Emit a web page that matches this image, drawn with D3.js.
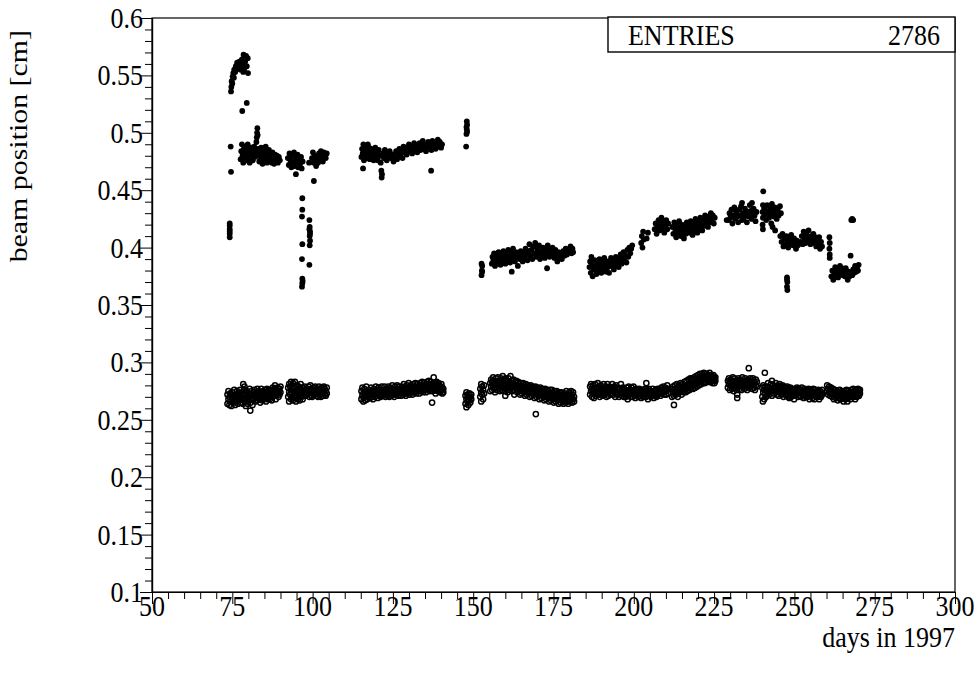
<!DOCTYPE html>
<html>
<head>
<meta charset="utf-8">
<script src="https://cdn.jsdelivr.net/npm/d3@7"></script>
<style>
  html, body { margin: 0; padding: 0; background: #fff; }
  svg { display: block; }
  text { font-family: "Liberation Serif", "Times New Roman", serif; fill: #000; }
</style>
</head>
<body>
<svg id="chart" width="980" height="677"></svg>
<script>
// ---------------- axis / label values ----------------
const xTicks = [50, 75, 100, 125, 150, 175, 200, 225, 250, 275, 300];
const yTicks = [0.1, 0.15, 0.2, 0.25, 0.3, 0.35, 0.4, 0.45, 0.5, 0.55, 0.6];
const xTitle = "days in 1997";
const yTitle = "beam position [cm]";
const statLabel = "ENTRIES";
const statValue = 2786;

// ---------------- upper band (filled markers) ----------------
// each row: [day, reading, reading, ...]
const upperRunA = [
  [74.2,.412,.416,.419,.414,.421,.409],[74.5,.488],[74.6,.466,.536],[74.7,.540],[74.8,.545],[75.0,.543],
  [75.1,.549],[75.3,.552],[75.5,.548],[75.6,.555],[75.9,.553],[76.1,.558],[76.3,.556],[76.5,.561],
  [76.8,.559],[77.0,.556],[77.2,.562],[77.4,.558],[77.6,.555,.477],[77.8,.560,.484],[78.0,.564,.490],
  [78.1,.519],[78.2,.558,.480],[78.4,.553,.474],[78.5,.568],[78.6,.560,.486],[78.8,.556,.482],
  [79.0,.562,.478],[79.2,.488],[79.3,.567],[79.4,.476],[79.5,.558,.526],[79.6,.483],[79.8,.565,.490],
  [79.9,.552],[80.0,.480],[80.2,.486],[80.4,.474],[80.6,.482],[80.8,.478],[81.0,.487],[81.2,.483],
  [81.4,.476],[81.6,.481],[81.8,.488],[82.0,.479],[82.2,.484],[82.5,.492],[82.6,.496],[82.7,.500],
  [82.8,.504],[82.9,.498],[83.0,.486],[83.2,.480],[83.4,.475],[83.6,.484],[83.8,.478],[84.0,.487],
  [84.2,.482],[84.4,.473],[84.6,.480],[84.8,.485],[85.0,.477],[85.2,.482],[85.4,.488],[85.6,.479],
  [85.8,.474],[86.0,.483],[86.2,.478],[86.4,.485],[86.6,.476],[86.8,.481],[87.0,.479],[87.3,.474],
  [87.5,.483],[87.8,.478],[88.0,.473],[88.3,.481],[88.6,.476],[88.9,.480],[89.2,.474],[89.5,.479],
  [89.8,.476],
  [92.3,.478],[92.6,.472],[92.8,.482],[93.1,.476],[93.4,.470],[93.6,.480],[93.9,.474],[94.2,.483],
  [94.4,.471],[94.7,.478],[94.8,.464],[95.0,.474],[95.3,.481],[95.5,.470],[95.8,.477],[96.1,.473],
  [96.4,.479],[96.6,.469],[96.9,.475],
  [96.8,.443,.433,.403,.373,.369],[96.7,.427,.390,.366],[96.9,.371],
  [99.0,.424,.385,.416],[99.1,.418,.410,.402],[99.2,.414,.406,.412],[98.9,.474],
  [99.8,.478],[100.1,.483],[100.3,.474],[100.4,.458],[100.6,.480],[100.9,.476],[101.1,.471],[101.4,.479],
  [101.7,.474],[102.0,.482],[102.3,.477],[102.6,.484],[102.9,.479],[103.2,.475],[103.5,.483],
  [103.8,.480],[104.1,.478],[104.4,.482]
];
const upperRunB = [
  [115.2,.479],[115.4,.486],[115.6,.482],[115.7,.469],[115.8,.490],[116.0,.476],[116.2,.484],[116.4,.488],
  [116.6,.480],[116.8,.485],[117.0,.478],[117.2,.490],[117.4,.483],[117.6,.487],[117.8,.477],
  [118.0,.482],[118.3,.486],[118.5,.479],[118.8,.484],[119.0,.476],[119.3,.481],[119.5,.487],
  [119.8,.479],[120.0,.483],[120.3,.476],[120.6,.485],[120.9,.480],[121.2,.474],[121.4,.467],
  [121.5,.461],[121.6,.464],[121.9,.482],[122.2,.478],[122.5,.485],[122.8,.480],[123.1,.476],
  [123.4,.483],[123.7,.479],[124.0,.484],[124.4,.478],[124.8,.481],[125.2,.475],[125.6,.479],
  [126.0,.484],[126.3,.477],[126.6,.482],[127.0,.486],[127.3,.480],[127.6,.484],[128.0,.478],
  [128.3,.488],[128.6,.483],[129.0,.487],[129.3,.481],[129.6,.485],[130.0,.490],[130.3,.484],
  [130.6,.488],[131.0,.482],[131.3,.487],[131.6,.491],[132.0,.485],[132.3,.489],[132.6,.483],
  [133.0,.487],[133.3,.491],[133.6,.485],[134.0,.489],[134.3,.493],[134.6,.486],[135.0,.490],
  [135.3,.484],[135.6,.488],[136.0,.492],[136.3,.487],[136.6,.490],[136.9,.467],[137.0,.485],
  [137.3,.493],[137.6,.488],[138.0,.491],[138.3,.486],[138.6,.490],[139.0,.494],[139.3,.488],
  [139.6,.492],[140.0,.487],[140.3,.490],
  [147.8,.488],[147.9,.499,.505],[148.0,.503,.510],[148.1,.507,.501]
];
const upperRunC = [
  [152.6,.376,.386],[152.7,.380],[152.8,.384,.379],
  [155.8,.386],[156.0,.392],[156.3,.389],[156.5,.395],[156.8,.384],[157.0,.390],[157.3,.393],
  [157.6,.387],[157.9,.396],[158.2,.390],[158.5,.385],[158.8,.393],[159.1,.389],[159.4,.397],
  [159.7,.391],[160.0,.386],[160.3,.394],[160.6,.390],[160.9,.398],[161.2,.392],[161.5,.387],
  [161.8,.395],[162.0,.379],[162.1,.391],[162.4,.399],[162.7,.393],[163.0,.388],[163.3,.396],
  [163.6,.392],[163.9,.384],[164.2,.394],[164.5,.390],[164.8,.397],[165.1,.393],[165.4,.388],
  [165.7,.396],[166.0,.391],[166.3,.399],[166.6,.394],[166.9,.389],[167.2,.397],[167.5,.403],
  [167.8,.393],[168.1,.398],[168.4,.390],[168.7,.401],[169.0,.395],[169.3,.404],[169.6,.392],
  [169.9,.399],[170.2,.395],[170.5,.402],[170.8,.390],[171.1,.397],[171.4,.393],[171.7,.400],
  [172.0,.396],[172.3,.391],[172.6,.399],[172.9,.395],[173.0,.382],[173.2,.402],[173.5,.397],
  [173.8,.392],[174.1,.398],[174.4,.394],[174.7,.400],[175.0,.396],[175.3,.391],[175.6,.398],
  [175.9,.394],[176.2,.388],[176.5,.396],[176.8,.392],[177.2,.395],[177.6,.390],[178.0,.397],
  [178.4,.393],[178.8,.399],[179.2,.394],[179.6,.397],[180.0,.398],[180.3,.401],[180.6,.395],
  [180.9,.399],[181.1,.396]
];
const upperRunD = [
  [186.2,.383],[186.4,.388],[186.6,.378],[186.8,.392],[187.0,.385],[187.2,.375],[187.5,.381],
  [187.8,.389],[188.1,.384],[188.4,.377],[188.7,.386],[189.0,.380],[189.3,.390],[189.6,.383],
  [189.9,.378],[190.2,.387],[190.5,.382],[190.8,.391],[191.1,.385],[191.4,.379],[191.7,.388],
  [192.0,.383],[192.3,.378],[192.6,.386],[192.9,.391],[193.2,.384],[193.5,.389],[193.8,.381],
  [194.1,.387],[194.4,.392],[194.7,.385],[195.0,.390],[195.3,.383],[195.6,.388],[195.9,.394],
  [196.2,.386],[196.5,.391],[196.8,.396],[197.1,.389],[197.4,.393],[197.7,.387],[198.0,.398],
  [198.3,.392],[198.6,.400],[198.9,.395],[199.2,.399],[199.5,.402],
  [202.3,.404],[202.5,.410],[202.7,.400],[202.9,.414],[203.1,.407],[204.0,.408],[204.4,.413],
  [206.5,.416],[206.8,.421],[207.1,.412],[207.4,.418],[207.7,.424],[208.0,.415],[208.3,.420],
  [208.6,.426],[208.9,.417],[209.2,.422],[209.5,.413],[209.8,.419],[210.1,.424],[210.4,.416],
  [210.7,.421],
  [212.0,.418],[212.3,.412],[212.6,.422],[212.9,.416],[213.2,.409],[213.5,.419],[213.8,.413],
  [214.1,.423],[214.4,.417],[214.7,.410],[215.0,.420],[215.3,.414],[215.6,.408],[215.9,.418],
  [216.2,.412],[216.5,.422],[216.8,.415],[217.1,.419],[217.4,.413],[217.7,.423],[218.0,.417],
  [218.3,.411],[218.6,.421],[218.9,.415],[219.2,.425],[219.5,.418],[219.8,.413],[220.1,.422],
  [220.4,.417],[220.7,.426],[221.0,.420],[221.3,.415],[221.6,.424],[221.9,.419],[222.2,.428],
  [222.5,.421],[222.8,.425],[223.1,.418],[223.4,.427],[223.7,.422],[224.0,.430],[224.3,.424],
  [224.6,.428],[224.9,.421],[225.2,.426],[228.9,.424]
];
const upperRunE = [
  [229.5,.424],[229.8,.430],[230.1,.426],[230.4,.433],[230.7,.421],[231.0,.428],[231.3,.435],
  [231.6,.425],[231.9,.431],[232.2,.427],[232.5,.422],[232.8,.433],[233.1,.428],[233.4,.436],
  [233.7,.424,.439],[234.0,.430],[234.3,.426],[234.6,.434],[234.9,.429],[235.2,.422],[235.5,.431],
  [235.8,.427],[236.1,.437],[236.4,.432],[236.7,.425],[236.8,.439],[237.0,.430],[237.3,.434],
  [237.6,.428],[237.9,.423],[238.2,.431],
  [240.1,.431,.420],[240.2,.437,.426,.416],[240.3,.449],[240.6,.434],[240.9,.429],[241.2,.424],
  [241.5,.437],[241.8,.431],[242.1,.426],[242.4,.434],[242.7,.429],[242.8,.421],[243.0,.438],
  [243.2,.418],[243.3,.432],[243.6,.427],[243.9,.435],[244.0,.415],[244.2,.430],[244.5,.425],
  [244.8,.433],[245.1,.428],[245.5,.436],[245.8,.430],
  [245.6,.410],[246.0,.405],[246.3,.412],[246.6,.401],[246.9,.408],[247.2,.403],[247.5,.410],
  [247.8,.406],[248.1,.400],[248.4,.408],[248.7,.404],[249.0,.411],[249.3,.406],[249.6,.402],
  [249.9,.408],[250.2,.404],[250.5,.399],[250.8,.406],[251.1,.402],[252.0,.405],[252.3,.410],
  [252.6,.403],[252.9,.414],[253.2,.408],[253.5,.404],[253.8,.411],[254.1,.406],[254.4,.415],
  [254.7,.409],[255.0,.403],[255.3,.410],[255.6,.406],[255.9,.412],[256.2,.404],[256.5,.409],
  [256.8,.401],[257.1,.407],[257.4,.403],[257.7,.409],[258.0,.399],[258.3,.405],[258.6,.401],
  [247.7,.374,.366,.372],[247.8,.370,.363],
  [260.9,.409,.399],[261.0,.404,.394,.391],
  [261.5,.375],[261.8,.380],[262.1,.372],[262.4,.378],[262.7,.383],[263.0,.376],[263.3,.381],
  [263.6,.374],[263.9,.379],[264.2,.384],[264.5,.377],[264.8,.382],[265.1,.376],[265.4,.380],
  [265.7,.375],[266.0,.382],[266.3,.377],[266.6,.372],[266.9,.379],[267.2,.375],[267.5,.393],
  [267.7,.424],[268.0,.376,.425],[268.3,.381,.424],[268.6,.378],[268.9,.384],[269.2,.379],
  [269.5,.383],[269.8,.380],[270.0,.385]
];

// ---------------- lower band (open markers) ----------------
const lowerRunA = [
  [73.5,.264,.272],[73.8,.268,.275],[74.1,.263,.270],[74.4,.266,.273],[74.7,.271,.262],[75.0,.268,.274],
  [75.3,.265,.271],[75.6,.269,.276],[75.9,.263,.267],[76.2,.272,.266],[76.5,.270,.275],[76.8,.264,.268],
  [77.1,.273,.267],[77.4,.270,.276],[77.7,.265,.271],[78.0,.268,.274],[78.3,.272,.264],[78.4,.281],
  [78.6,.269,.276],[78.8,.279],[78.9,.266,.273],[79.2,.271,.262],[79.5,.268,.275],[79.8,.264,.270],
  [80.1,.273,.267],[80.4,.270,.277],[80.6,.258],[80.7,.265,.272],[81.0,.268,.275],[81.3,.263,.271],
  [81.6,.274,.268],[81.9,.270,.276],[82.2,.266,.272],[82.5,.273,.269],[82.8,.277,.267],[83.1,.271,.275],
  [83.4,.268,.273],[83.7,.274,.265],[84.0,.270,.277],[84.3,.267,.273],[84.6,.275,.270],[84.9,.272,.268],
  [85.2,.276,.270],[85.5,.273,.266],[85.8,.270,.277],[86.1,.274,.268],[86.4,.271,.276],[86.7,.268,.274],
  [87.0,.276,.271],[87.3,.273,.267],[87.6,.270,.278],[87.9,.275,.272],[88.2,.271,.277],[88.3,.280],
  [88.5,.268,.274],[88.8,.276,.272],[89.1,.273,.278],[89.4,.270,.275],[89.7,.277,.272],[90.0,.274,.279],
  [92.4,.270,.278],[92.7,.266,.274,.281],[93.0,.272,.279],[93.3,.268,.276,.283],[93.6,.273,.270],
  [93.9,.277,.267,.282],[94.2,.271,.275],[94.5,.269,.278,.283],[94.8,.274,.266],[95.1,.276,.271,.280],
  [95.4,.268,.273],[95.7,.275,.279,.270],[96.0,.272,.267],[96.3,.277,.274,.281],[96.6,.270,.275],
  [96.9,.273,.278,.268],[97.2,.276,.271],[97.5,.274,.279],[97.8,.271,.276],[98.1,.275,.272],
  [98.7,.273,.279],[99.0,.270,.276],[99.3,.274,.280],[99.6,.271,.277],[99.9,.275,.270],[100.2,.278,.273],
  [100.5,.272,.276],[100.8,.279,.274],[101.1,.271,.275],[101.4,.277,.273],[101.7,.270,.276],
  [102.0,.274,.279],[102.3,.272,.277],[102.6,.275,.270],[102.9,.278,.273],[103.2,.271,.276],
  [103.5,.274,.279],[103.8,.272,.277],[104.1,.275,.271],[104.4,.273,.278]
];
const lowerRunB = [
  [115.2,.268,.275],[115.5,.271,.278],[115.8,.266,.273],[116.1,.270,.277],[116.4,.274,.267],
  [116.7,.272,.279],[117.0,.268,.275],[117.3,.273,.270],[117.6,.276,.271],[117.9,.269,.274],
  [118.2,.272,.278],[118.5,.270,.275],[118.8,.274,.268],[119.1,.277,.272],[119.4,.270,.275],
  [119.7,.273,.279],[120.0,.271,.276],[120.3,.275,.269],[120.6,.272,.278],[120.9,.276,.271],
  [121.2,.270,.274],[121.5,.273,.279],[121.8,.276,.271],[122.1,.272,.275],[122.4,.274,.279],
  [122.7,.270,.276],[123.0,.273,.277],[123.3,.276,.271],[123.6,.272,.279],[123.9,.275,.270],
  [124.2,.278,.273],[124.5,.271,.276],[124.8,.274,.280],[125.1,.272,.277],[125.4,.276,.270],
  [125.7,.273,.279],[126.0,.277,.272],[126.3,.274,.280],[126.6,.271,.276],[126.9,.275,.279],
  [127.2,.273,.277],[127.5,.276,.271],[127.8,.279,.274],[128.1,.272,.277],[128.4,.275,.281],
  [128.7,.273,.278],[129.0,.277,.271],[129.3,.274,.280],[129.6,.278,.273],[129.9,.275,.282],
  [130.2,.272,.277],[130.5,.276,.280],[130.8,.274,.278],[131.1,.277,.272],[131.4,.275,.281],
  [131.7,.279,.274],[132.0,.276,.282],[132.3,.273,.278],[132.6,.277,.281],[132.9,.275,.279],
  [133.2,.278,.273],[133.5,.276,.282],[133.8,.280,.275],[134.1,.277,.283],[134.4,.274,.279],
  [134.7,.278,.282],[135.0,.276,.280],[135.3,.279,.274],[135.6,.277,.283],[135.9,.281,.276],
  [136.2,.278,.284],[136.5,.275,.280],[136.8,.279,.283],[137.1,.277,.281],[137.2,.265],
  [137.4,.280,.275],[137.7,.278,.287],[138.0,.276,.282],[138.3,.280,.273],[138.6,.277,.283],
  [138.9,.281,.275],[139.2,.278,.282],[139.5,.275,.280],[139.8,.279,.274],[140.1,.276,.281],
  [140.4,.273,.278],[140.7,.277,.274],
  [147.6,.264,.271],[147.9,.268,.274,.261],[148.2,.266,.272],[148.5,.270,.263],[148.8,.267,.273],
  [149.1,.265,.270],[149.4,.268,.272]
];
const lowerRunC = [
  [152.2,.270,.277],[152.5,.266,.274,.281],[152.8,.272,.279],[153.1,.268,.276],[153.4,.273,.280],
  [155.3,.275,.282],[155.6,.279,.285],[155.9,.276,.283],[156.2,.280,.287],[156.5,.277,.284],
  [156.8,.281,.274],[157.1,.278,.286],[157.4,.283,.276],[157.7,.280,.287],[158.0,.277,.284],
  [158.3,.282,.275],[158.6,.279,.286],[158.9,.276,.283],[159.2,.281,.288],[159.5,.278,.285],
  [159.8,.275,.282],[160.0,.271],[160.1,.280,.286],[160.4,.277,.284],[160.7,.282,.274],[161.0,.279,.286],
  [161.3,.276,.283],[161.6,.281,.288],[161.9,.278,.284],[162.2,.275,.281],[162.5,.279,.285],
  [162.8,.276,.272],[163.1,.280,.283],[163.4,.277,.284],[163.7,.274,.280],[164.0,.278,.283],
  [164.3,.275,.281],[164.6,.279,.272],[164.9,.276,.282],[165.2,.273,.279],[165.5,.277,.282],
  [165.8,.274,.280],[166.1,.278,.271],[166.4,.275,.281],[166.7,.272,.278],[167.0,.276,.280],
  [167.3,.273,.279],[167.6,.277,.270],[167.9,.274,.280],[168.2,.271,.277],[168.5,.275,.279],
  [168.8,.272,.278],[169.1,.276,.269],[169.4,.273,.279],[169.5,.255],[169.7,.270,.276],[170.0,.274,.278],
  [170.3,.271,.277],[170.6,.275,.268],[170.9,.272,.278],[171.2,.269,.275],[171.5,.273,.277],
  [171.8,.270,.276],[172.1,.274,.267],[172.4,.271,.277],[172.7,.268,.274],[173.0,.272,.276],
  [173.3,.269,.275],[173.6,.273,.266],[173.9,.270,.276],[174.2,.267,.273],[174.5,.271,.276],
  [174.8,.268,.274],[175.1,.272,.265],[175.4,.269,.275],[175.7,.266,.272],[176.0,.270,.275],
  [176.3,.267,.273],[176.6,.271,.264],[176.9,.268,.274],[177.2,.265,.272],[177.5,.269,.274],
  [177.8,.266,.272],[178.1,.270,.264],[178.4,.267,.273],[178.7,.265,.271],[179.0,.269,.275],
  [179.3,.266,.272],[179.6,.270,.264],[179.9,.268,.274],[180.2,.266,.271],[180.5,.269,.275],
  [180.8,.265,.272],[181.1,.268,.274],[181.4,.270,.266]
];
const lowerRunD = [
  [186.4,.272,.279],[186.7,.275,.281],[187.0,.270,.277],[187.3,.273,.280],[187.6,.276,.269],
  [187.9,.274,.281],[188.2,.271,.278],[188.5,.277,.273],[188.8,.275,.282],[189.1,.272,.278],
  [189.4,.276,.270],[189.7,.273,.280],[190.0,.278,.275],[190.3,.271,.277],[190.6,.274,.281],
  [190.9,.276,.272],[191.2,.273,.279],[191.5,.277,.270],[191.8,.274,.281],[192.1,.271,.276],
  [192.4,.275,.279],[192.7,.278,.272],[193.0,.273,.277],[193.3,.276,.281],[193.6,.272,.275],
  [193.9,.275,.279],[194.2,.270,.277],[194.5,.274,.280],[194.8,.277,.272],[195.1,.273,.278],
  [195.4,.276,.270],[195.7,.272,.277],[196.0,.275,.281],[196.3,.271,.274],[196.6,.274,.278],
  [196.9,.277,.270],[197.2,.273,.276],[197.5,.270,.275],[197.8,.274,.278],[198.1,.271,.268],
  [198.4,.275,.279],[198.7,.272,.276],[199.0,.276,.270],[199.3,.273,.278],[199.6,.270,.275],
  [199.9,.274,.279],[200.2,.271,.276],[200.5,.275,.269],[200.8,.272,.277],[201.1,.276,.273],
  [201.4,.270,.274],[201.7,.273,.277],[202.0,.271,.275],[202.3,.274,.269],[202.6,.272,.276],
  [202.9,.275,.270],[203.2,.271,.274],[203.5,.274,.277],[203.8,.270,.273],[203.9,.282],
  [204.1,.273,.276],[204.4,.271,.268],[204.7,.274,.277],[205.0,.272,.275],[205.3,.275,.270],
  [205.6,.271,.274],[205.9,.274,.277],[206.2,.272,.269],[206.5,.275,.273],[206.8,.271,.276],
  [207.1,.274,.270],[207.4,.272,.277],[207.7,.275,.273],[208.0,.273,.276],[208.3,.276,.271],
  [208.6,.273,.278],[208.9,.276,.274],[209.2,.274,.279],[209.5,.277,.272],[209.8,.275,.278],
  [210.1,.272,.276],[210.4,.276,.280],[210.7,.273,.277],
  [211.9,.270,.277],[212.2,.273,.279],[212.5,.271,.276,.263],[212.8,.274,.280],[213.1,.272,.277],
  [213.4,.275,.281],[213.7,.273,.270],[214.0,.276,.280],[214.3,.274,.278],[214.6,.277,.282],
  [214.9,.275,.272],[215.2,.278,.281],[215.5,.276,.274],[215.8,.279,.283],[216.1,.277,.274],
  [216.4,.280,.284],[216.7,.278,.275],[217.0,.281,.285],[217.3,.279,.276],[217.6,.282,.286],
  [217.9,.280,.277],[218.2,.282,.286],[218.5,.280,.277],[218.8,.283,.287],[219.1,.281,.278],
  [219.4,.284,.288],[219.7,.282,.279],[220.0,.285,.289],[220.3,.283,.280],[220.6,.286,.290],
  [220.9,.284,.281],[221.2,.287,.290],[221.5,.285,.282],[221.8,.288,.291],[222.1,.286,.282],
  [222.4,.288,.283],[222.7,.285,.290],[223.0,.287,.283],[223.3,.289,.284],[223.6,.286,.291],
  [223.9,.288,.283],[224.2,.285,.289],[224.5,.287,.282],[224.8,.284,.289],[225.1,.286,.282],
  [225.4,.284,.287]
];
const lowerRunE = [
  [229.3,.278,.284],[229.6,.281,.286],[229.9,.276,.283],[230.2,.280,.285],[230.5,.277,.282],
  [230.8,.283,.287],[231.1,.279,.275],[231.4,.282,.286],[231.7,.278,.284],[232.0,.281,.276],
  [232.2,.269,.272],[232.3,.284,.279],[232.6,.280,.286],[232.9,.277,.283],[233.2,.282,.285],
  [233.5,.279,.276],[233.8,.283,.287],[234.1,.280,.282],[234.4,.277,.284],[234.7,.281,.286],
  [235.0,.279,.283],[235.3,.284,.276],[235.6,.280,.285],[235.8,.295],[235.9,.282,.278],
  [236.2,.279,.286],[236.5,.283,.281],[236.8,.277,.284],[237.1,.281,.286],[237.4,.278,.283],
  [237.7,.282,.276],[238.0,.280,.285],[238.3,.283,.279],
  [240.0,.270,.278],[240.2,.266],[240.3,.274,.280],[240.6,.268,.276],[240.8,.291],[240.9,.273,.279],
  [241.2,.276,.270],[241.5,.271,.279],[241.8,.275,.282],[242.1,.272,.277],[242.4,.278,.274],
  [242.7,.275,.281],[243.0,.271,.277,.284],[243.3,.276,.280],[243.6,.273,.278],[243.9,.279,.275],
  [244.2,.276,.282],[244.5,.272,.278],[244.8,.277,.280],[245.1,.274,.271],[245.4,.278,.281],
  [245.7,.275,.279],[246.0,.272,.277],[246.3,.276,.280],[246.6,.273,.270],[246.9,.277,.279],
  [247.2,.274,.278],[247.5,.271,.276],[247.8,.275,.279],[248.0,.270],[248.1,.272,.277],
  [248.4,.276,.269],[248.7,.273,.278],[249.0,.270,.275],[249.3,.274,.277],[249.6,.271,.276],
  [249.9,.275,.268],[250.2,.272,.277],[250.5,.276,.274],[250.8,.273,.278],[251.1,.270,.275],
  [251.4,.274,.277],[251.7,.271,.276],
  [252.0,.270,.276],[252.3,.273,.278],[252.6,.271,.275],[252.9,.274,.269],[253.2,.272,.277],
  [253.5,.275,.270],[253.8,.273,.276],[254.1,.270,.274],[254.4,.274,.277],[254.7,.271,.268],
  [255.0,.275,.273],[255.3,.272,.276],[255.6,.269,.274],[255.9,.273,.277],[256.2,.271,.268],
  [256.5,.274,.276],[256.8,.272,.270],[257.1,.275,.273],[257.4,.270,.276],[257.7,.273,.268],
  [258.0,.271,.275],[258.3,.274,.270],[258.6,.272,.276],
  [260.2,.275,.280],[260.5,.277,.272],[260.8,.274,.279],[261.1,.276,.271],[261.4,.273,.278],
  [261.7,.275,.270],[262.0,.272,.277],[262.3,.274,.268],[262.6,.271,.276],[262.9,.273,.269],
  [263.2,.270,.275],[263.5,.272,.267],[263.8,.269,.274],[264.1,.271,.276],[264.4,.268,.273],
  [264.7,.271,.275],[265.0,.269,.274],[265.3,.272,.266],[265.6,.270,.275],[265.9,.268,.273],
  [266.2,.271,.276],[266.5,.269,.266],[266.8,.272,.275],[267.1,.270,.273],[267.4,.273,.268],
  [267.7,.271,.276],[268.0,.274,.270],[268.3,.272,.277],[268.6,.270,.275],[268.9,.273,.268],
  [269.2,.271,.276],[269.5,.274,.270],[269.8,.272,.277],[270.1,.275,.271],[270.4,.273,.276]
];

// ---------------- layout ----------------
const W = 980, H = 677;
const frame = { left: 152, top: 18, right: 955, bottom: 592 };
const fontSize = 26;      // horizontal glyph size
const stretch = 1.15;     // glyphs are drawn a bit taller than wide

const svg = d3.select("#chart");

const x = d3.scaleLinear().domain([50, 300]).range([frame.left, frame.right]);
const y = d3.scaleLinear().domain([0.1, 0.6]).range([frame.bottom, frame.top]);

// expand rows [day, r1, r2, ...] into individual readings
const expand = rows => rows.flatMap(([d, ...vals]) => vals.map(v => ({ d, v })));
const upper = expand([].concat(upperRunA, upperRunB, upperRunC, upperRunD, upperRunE));
const lower = expand([].concat(lowerRunA, lowerRunB, lowerRunC, lowerRunD, lowerRunE));

// ---------------- markers ----------------
const plot = svg.append("g").attr("class", "markers");

plot.append("g").selectAll("circle")
  .data(lower)
  .join("circle")
  .attr("cx", p => x(p.d))
  .attr("cy", p => y(p.v))
  .attr("r", 2.6)
  .attr("fill", "none")
  .attr("stroke", "#000")
  .attr("stroke-width", 1.5);

plot.append("g").selectAll("circle")
  .data(upper)
  .join("circle")
  .attr("cx", p => x(p.d))
  .attr("cy", p => y(p.v))
  .attr("r", 2.9)
  .attr("fill", "#000");

// ---------------- axes ----------------
const xMinor = d3.range(50, 300.001, 5).filter(v => v % 25 !== 0);
const yMinor = d3.range(10, 60.001, 1).filter(v => v % 5 !== 0).map(v => v / 100);

function styleAxis(g) {
  g.selectAll("path.domain").attr("stroke", "#000").attr("stroke-width", 1.2);
  g.selectAll(".tick line").attr("stroke", "#000").attr("stroke-width", 1);
  g.selectAll(".tick text").remove();
}

svg.append("g")
  .attr("transform", `translate(0,${frame.bottom})`)
  .call(d3.axisBottom(x).tickValues(xTicks).tickSize(12).tickSizeOuter(0).tickFormat(""))
  .call(styleAxis);
svg.append("g")
  .attr("transform", `translate(0,${frame.bottom})`)
  .call(d3.axisBottom(x).tickValues(xMinor).tickSize(7).tickSizeOuter(0).tickFormat(""))
  .call(styleAxis);

svg.append("g")
  .attr("transform", `translate(${frame.left},0)`)
  .call(d3.axisLeft(y).tickValues(yTicks).tickSize(12).tickSizeOuter(0).tickFormat(""))
  .call(styleAxis);
svg.append("g")
  .attr("transform", `translate(${frame.left},0)`)
  .call(d3.axisLeft(y).tickValues(yMinor).tickSize(7).tickSizeOuter(0).tickFormat(""))
  .call(styleAxis);

// frame box
svg.append("rect")
  .attr("x", frame.left).attr("y", frame.top)
  .attr("width", frame.right - frame.left).attr("height", frame.bottom - frame.top)
  .attr("fill", "none").attr("stroke", "#000").attr("stroke-width", 1.2);

// ---------------- labels ----------------
const fmtY = d => String(+d.toFixed(2));

svg.append("g").selectAll("text")
  .data(xTicks)
  .join("text")
  .attr("transform", d => `translate(${x(d)},${frame.bottom + 24}) scale(1,${stretch})`)
  .attr("text-anchor", "middle")
  .attr("font-size", fontSize)
  .text(d => d);

svg.append("g").selectAll("text")
  .data(yTicks)
  .join("text")
  .attr("transform", d => `translate(${frame.left - 9},${y(d) + 10}) scale(1,${stretch})`)
  .attr("text-anchor", "end")
  .attr("font-size", fontSize)
  .text(fmtY);

svg.append("text")
  .attr("transform", `translate(${frame.right},${frame.bottom + 55}) scale(1,${stretch})`)
  .attr("text-anchor", "end")
  .attr("font-size", fontSize)
  .text(xTitle);

svg.append("text")
  .attr("transform", `translate(27,30) rotate(-90) scale(${stretch},1)`)
  .attr("text-anchor", "end")
  .attr("font-size", fontSize)
  .text(yTitle);

// ---------------- statistics box ----------------
const stat = svg.append("g");
stat.append("rect")
  .attr("x", 608).attr("y", 17)
  .attr("width", frame.right - 608).attr("height", 35)
  .attr("fill", "#fff").attr("stroke", "#000").attr("stroke-width", 1.4);
stat.append("text")
  .attr("transform", `translate(628,45) scale(1,${stretch})`)
  .attr("font-size", fontSize)
  .text(statLabel);
stat.append("text")
  .attr("transform", `translate(940,45) scale(1,${stretch})`)
  .attr("text-anchor", "end")
  .attr("font-size", fontSize)
  .text(statValue);
</script>
</body>
</html>
